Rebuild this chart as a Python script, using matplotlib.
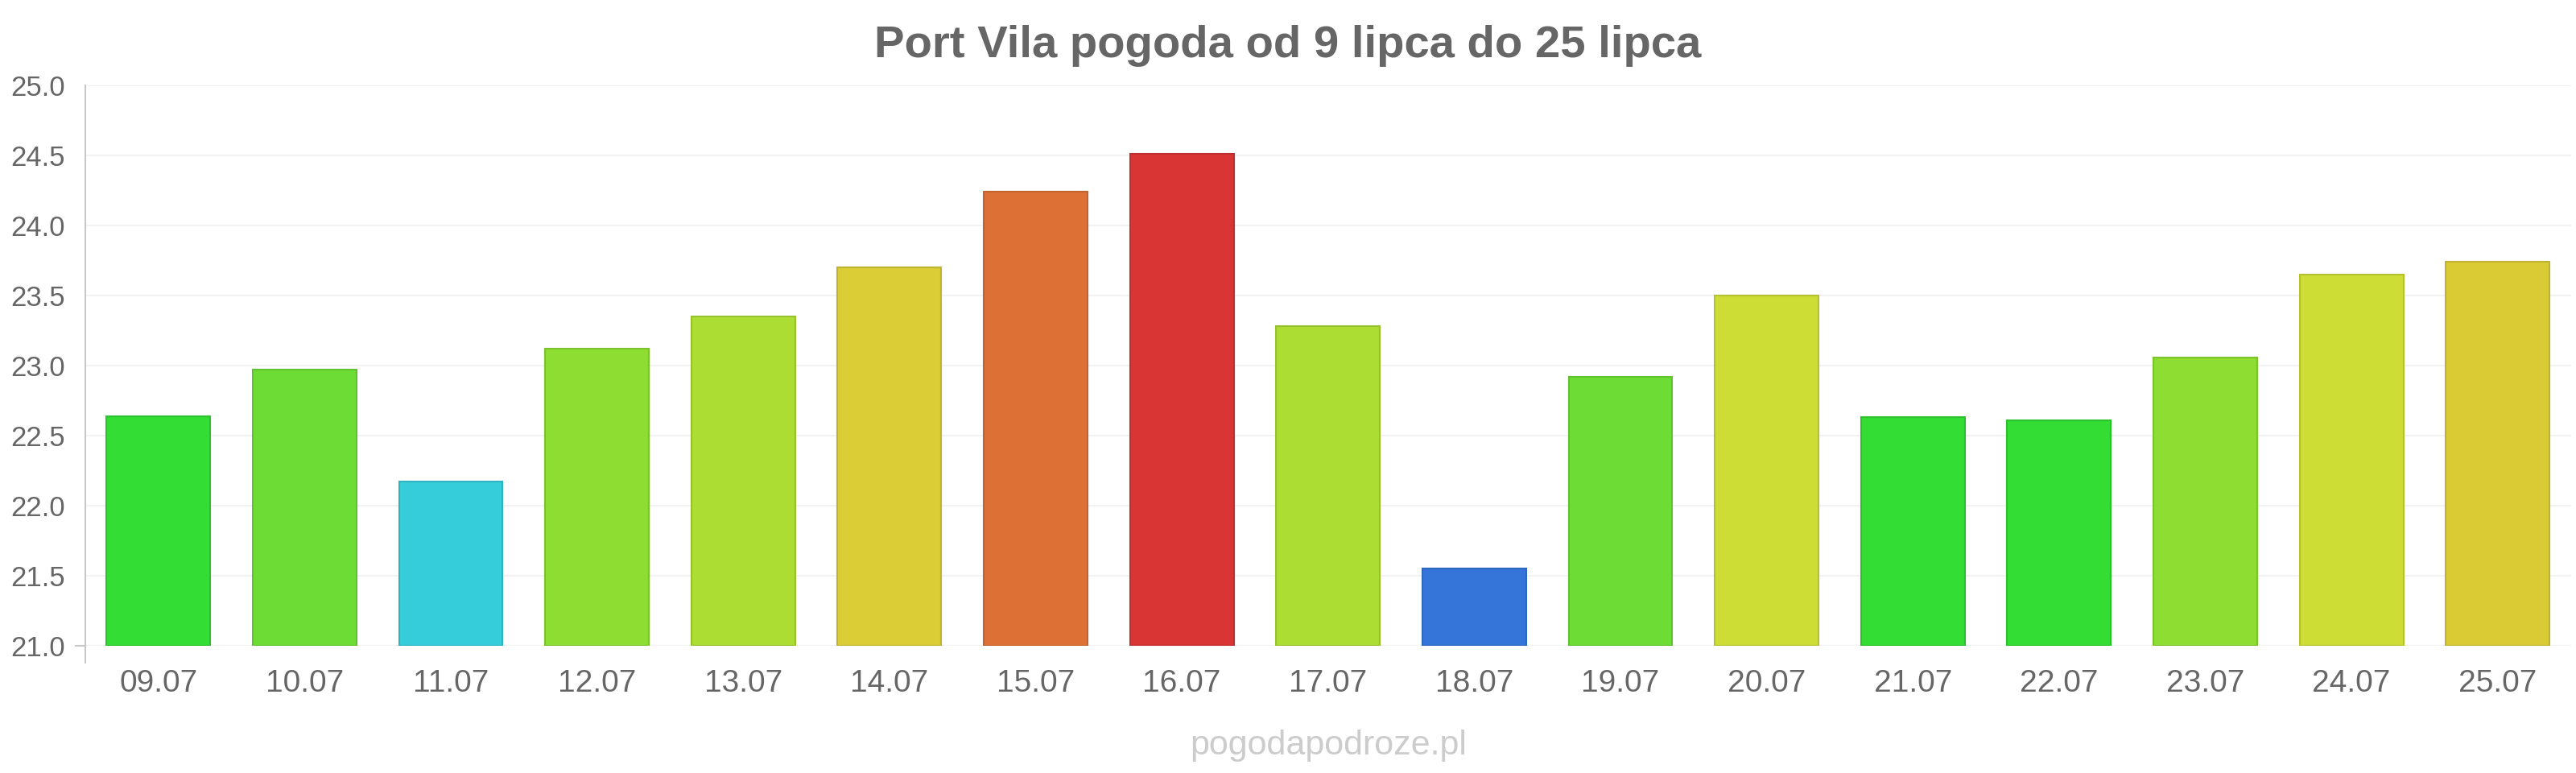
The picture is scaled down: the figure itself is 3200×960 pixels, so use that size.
import matplotlib
matplotlib.use("Agg")
import matplotlib.pyplot as plt
import matplotlib.colors as mcolors

dates = ["09.07", "10.07", "11.07", "12.07", "13.07", "14.07", "15.07", "16.07", "17.07",
         "18.07", "19.07", "20.07", "21.07", "22.07", "23.07", "24.07", "25.07"]
temps = [22.64, 22.97, 22.17, 23.12, 23.35, 23.70, 24.24, 24.51, 23.28,
         21.55, 22.92, 23.50, 22.63, 22.61, 23.06, 23.65, 23.74]
bar_colors = ["#33dd33", "#6ddd35", "#35cdd9", "#8ddd33", "#acdd33", "#dacd35", "#dd7035",
              "#d93535", "#acdd33", "#3575d9", "#6ddd35", "#cedd35", "#33dd33", "#33dd33",
              "#8ddd33", "#cedd35", "#dacb35"]
yticks = [21.0, 21.5, 22.0, 22.5, 23.0, 23.5, 24.0, 24.5, 25.0]
title = "Port Vila pogoda od 9 lipca do 25 lipca"
watermark = "pogodapodroze.pl"

plt.rcParams['font.family'] = ['Liberation Sans', 'DejaVu Sans']

fig = plt.figure(figsize=(32, 9.6), dpi=100)
ax = fig.add_axes([0.0331, 0.1646, 0.9649, 0.725])

def darker(c, f=0.88):
    r, g, b = mcolors.to_rgb(c)
    return (r * f, g * f, b * f)

x = list(range(len(dates)))
heights = [t - 21.0 for t in temps]
ax.bar(x, heights, bottom=21.0, width=0.71, color=bar_colors,
       edgecolor=[darker(c) for c in bar_colors], linewidth=1.5, zorder=3)

ax.set_xlim(-0.5, len(dates) - 0.5)
ax.set_ylim(21.0, 25.0)
ax.set_yticks(yticks)
ax.set_yticklabels([f"{v:.1f}" for v in yticks])
ax.set_xticks(x)
ax.set_xticklabels(dates)
ax.tick_params(axis='y', length=0, pad=18, labelsize=25, labelcolor="#666666")
ax.tick_params(axis='x', length=0, pad=21, labelsize=28, labelcolor="#666666")
ax.grid(axis='y', color="#f2f2f2", linewidth=1.5, zorder=0)
for s in ax.spines.values():
    s.set_visible(False)
ax.plot([0, 0], [-0.03, 1.0], transform=ax.transAxes, color="#c8c8c8",
        linewidth=1.5, clip_on=False, zorder=4)
ax.plot([-0.004, 0], [0, 0], transform=ax.transAxes, color="#c8c8c8",
        linewidth=1.5, clip_on=False, zorder=4)

fig.text(0.5, 1 - 57 / 960, title, ha='center', va='center', fontsize=40.5,
         fontweight='bold', color="#666666")
fig.text(0.5156, 1 - 926 / 960, watermark, ha='center', va='center', fontsize=31,
         color="#cccccc")

fig.savefig("out.png", dpi=100)
